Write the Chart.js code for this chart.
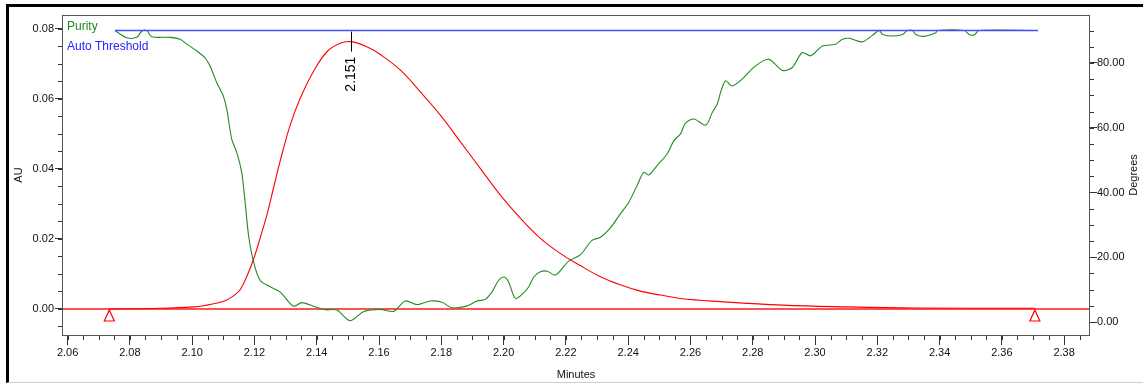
<!DOCTYPE html>
<html>
<head>
<meta charset="utf-8">
<script src="https://cdn.jsdelivr.net/npm/chart.js@4.4.1/dist/chart.umd.min.js"></script>
<style>
  html, body { margin: 0; padding: 0; background: #fff; }
  #wrap { position: relative; width: 1143px; height: 385px; overflow: hidden; }
  #frame { position: absolute; left: 6px; top: 4px; right: -10px; bottom: 2px;
           border-left: 3px solid #000; border-top: 3px solid #000; border-bottom: 1px solid #cfcfcf; }
  #chart { position: absolute; left: 0; top: 0; }
</style>
</head>
<body>
<div id="wrap">
  <div id="frame"></div>
  <canvas id="chart" width="1143" height="385"></canvas>
</div>
<script>
// Pico (AU, eje izquierdo)
const peakTimes = [2.0734, 2.0897, 2.1004, 2.1047, 2.1080, 2.1111, 2.1135, 2.1154, 2.1175, 2.1197, 2.1218, 2.1240,
  2.1261, 2.1282, 2.1315, 2.1347, 2.1389, 2.1433, 2.1475, 2.1510, 2.1561, 2.1604,
  2.1668, 2.1732, 2.1797, 2.1861, 2.1925, 2.1989, 2.2054, 2.2118, 2.2182, 2.2246,
  2.2311, 2.2375, 2.2439, 2.2504, 2.2568, 2.2697, 2.2895, 2.3108, 2.3324, 2.3706];
const peakAU = [0, 0.0002, 0.0006, 0.0011, 0.0017, 0.0026, 0.0039, 0.0055, 0.0092, 0.0142, 0.0202, 0.0269,
  0.0345, 0.0421, 0.0526, 0.0602, 0.0678, 0.0735, 0.0759, 0.0764, 0.0749, 0.0727,
  0.0683, 0.0621, 0.0554, 0.0478, 0.0402, 0.0326, 0.0259, 0.0202, 0.0159, 0.0124,
  0.0092, 0.0069, 0.0051, 0.0040, 0.0030, 0.0021, 0.0011, 0.0006, 0.0003, 0.0002];

// Pureza (grados, eje derecho)
const purityTimes = [2.0752, 2.0790, 2.0822, 2.0838, 2.0854, 2.0870, 2.0929, 2.0961, 2.0983, 2.1015,
  2.1041, 2.1057, 2.1079, 2.1100, 2.1111, 2.1127, 2.1143, 2.1159, 2.1170, 2.1181,
  2.1197, 2.1218, 2.1250, 2.1282, 2.1325, 2.1352, 2.1389, 2.1427, 2.1465, 2.1507,
  2.1550, 2.1604, 2.1647, 2.1684, 2.1722, 2.1765, 2.1802, 2.1834, 2.1883, 2.1915,
  2.1941, 2.1963, 2.1984, 2.2002, 2.2016, 2.2038, 2.2064, 2.2081, 2.2097, 2.2118,
  2.2140, 2.2166, 2.2188, 2.2209, 2.2247, 2.2284, 2.2311, 2.2343, 2.2375, 2.2402,
  2.2429, 2.2450, 2.2466, 2.2493, 2.2525, 2.2547, 2.2568, 2.2584, 2.2611, 2.2649,
  2.2670, 2.2686, 2.2697, 2.2713, 2.2734, 2.2766, 2.2809, 2.2852, 2.2895, 2.2927,
  2.2959, 2.2986, 2.3024, 2.3066, 2.3088, 2.3109, 2.3152, 2.3184, 2.3206, 2.3217,
  2.3249, 2.3281, 2.3297, 2.3313, 2.3324, 2.3350, 2.3388, 2.3393, 2.3479, 2.3495,
  2.3511, 2.3527, 2.3716];
const purityDeg = [90, 87.8, 87.9, 89.8, 90, 88.1, 87.9, 87.3, 85.8, 83.7,
  81.6, 79.1, 73.9, 69.8, 65.8, 56.5, 52.4, 46.2, 37.0, 26.8,
  18.6, 12.9, 10.9, 9.3, 4.9, 6.0, 4.9, 3.8, 3.7, 0.4,
  3.2, 3.9, 3.3, 6.5, 5.4, 6.5, 6.1, 4.4, 5.0, 6.5,
  7.0, 9.3, 12.9, 13.9, 12.4, 7.3, 9.0, 10.9, 13.9, 15.5,
  15.7, 14.5, 16.5, 18.8, 20.8, 25.2, 26.2, 29.1, 33.4, 37.0,
  42.2, 46.2, 45.4, 48.3, 51.9, 56.0, 58.1, 61.4, 62.7, 60.8,
  64.7, 67.3, 71.0, 74.5, 72.9, 75.0, 79.1, 81.1, 77.7, 78.6,
  83.2, 82.2, 85.2, 85.8, 87.3, 87.6, 86.5, 88.5, 90, 88.8,
  88.3, 88.8, 90, 90, 88.8, 88.2, 89.3, 90, 90, 88.8,
  88.6, 90, 90];

// Umbral automatico
const thresholdTimes = [2.0752, 2.3716];
const thresholdDeg = [90, 90];

const peakApex = { time: 2.151, au: 0.0764, label: '2.151' };
const integrationMarks = [2.0734, 2.3706];

const xMajorTicks = [2.06, 2.08, 2.10, 2.12, 2.14, 2.16, 2.18, 2.20, 2.22, 2.24, 2.26, 2.28, 2.30, 2.32, 2.34, 2.36, 2.38];
const auTicks = [0, 0.02, 0.04, 0.06, 0.08];
const degTicks = [0, 20, 40, 60, 80];

const X_MIN = 2.0582, X_MAX = 2.3883;
const AU_MIN = -0.00743, AU_MAX = 0.0840;
const DEG_MIN = -4.0, DEG_MAX = 94.8;

const tickFont = { family: "'Liberation Sans Narrow', 'Arial Narrow', 'Liberation Sans', Arial, sans-serif", size: 11 };
const labelFont = { family: "'Liberation Sans', Arial, sans-serif", size: 11 };

const toXY = (xs, ys) => xs.map((x, i) => ({ x: x, y: ys[i] }));

// Marcas menores, marco, leyenda y anotaciones
const extras = {
  id: 'extras',
  afterDraw(chart) {
    const ctx = chart.ctx;
    const area = chart.chartArea;
    const x = chart.scales.x, y = chart.scales.y, y1 = chart.scales.y1;
    ctx.save();

    // marcas menores
    ctx.strokeStyle = '#333';
    ctx.lineWidth = 1;
    ctx.beginPath();
    for (let i = 0; i <= 65; i++) {
      const px = Math.round(x.getPixelForValue(2.06 + i * 0.005)) + 0.5;
      ctx.moveTo(px, area.bottom); ctx.lineTo(px, area.bottom + 5);
    }
    for (let i = -1; i <= 16; i++) {
      const py = Math.round(y.getPixelForValue(i * 0.005)) + 0.5;
      ctx.moveTo(area.left - 4, py); ctx.lineTo(area.left, py);
    }
    for (let i = 0; i <= 18; i++) {
      const py = Math.round(y1.getPixelForValue(i * 5)) + 0.5;
      ctx.moveTo(area.right, py); ctx.lineTo(area.right + 4, py);
    }
    ctx.stroke();

    // marco
    ctx.strokeStyle = '#555';
    ctx.strokeRect(area.left + 0.5, area.top + 0.5, area.right - area.left - 1, area.bottom - area.top);

    // triangulos de integracion
    ctx.strokeStyle = '#ff0000';
    ctx.fillStyle = '#fff';
    ctx.lineWidth = 1.2;
    const base = y.getPixelForValue(0);
    integrationMarks.forEach(t => {
      const px = x.getPixelForValue(t);
      ctx.beginPath();
      ctx.moveTo(px, base + 1);
      ctx.lineTo(px + 5, base + 12);
      ctx.lineTo(px - 5, base + 12);
      ctx.closePath();
      ctx.fill(); ctx.stroke();
    });

    // etiqueta del pico
    const ax = Math.round(x.getPixelForValue(peakApex.time)) + 0.5;
    const ay = y.getPixelForValue(peakApex.au);
    ctx.strokeStyle = '#000';
    ctx.lineWidth = 1;
    ctx.beginPath();
    ctx.moveTo(ax, ay - 10); ctx.lineTo(ax, ay + 10);
    ctx.stroke();
    ctx.save();
    ctx.translate(ax, ay + 15);
    ctx.rotate(-Math.PI / 2);
    ctx.fillStyle = '#000';
    ctx.font = "14px 'Liberation Sans', Arial, sans-serif";
    ctx.textAlign = 'right';
    ctx.textBaseline = 'middle';
    ctx.fillText(peakApex.label, 0, 0);
    ctx.restore();

    // leyenda
    ctx.font = "12px 'Liberation Sans', Arial, sans-serif";
    ctx.textAlign = 'left';
    ctx.textBaseline = 'alphabetic';
    ctx.fillStyle = '#1f8a1f';
    ctx.fillText('Purity', area.left + 5, area.top + 15);
    ctx.fillStyle = '#2222ff';
    ctx.fillText('Auto Threshold', area.left + 5, area.top + 35);

    // titulo eje derecho
    ctx.save();
    ctx.translate(1134, (area.top + area.bottom) / 2);
    ctx.rotate(-Math.PI / 2);
    ctx.fillStyle = '#111';
    ctx.font = "11px 'Liberation Sans', Arial, sans-serif";
    ctx.textAlign = 'center';
    ctx.textBaseline = 'middle';
    ctx.fillText('Degrees', 0, 0);
    ctx.restore();

    ctx.restore();
  }
};

new Chart(document.getElementById('chart'), {
  type: 'line',
  data: {
    datasets: [
      {
        label: 'Peak',
        data: toXY(peakTimes, peakAU),
        yAxisID: 'y',
        borderColor: '#ff0000',
        borderWidth: 1.1,
        pointRadius: 0,
        tension: 0.4
      },
      {
        label: 'Auto Threshold',
        data: toXY(thresholdTimes, thresholdDeg),
        yAxisID: 'y1',
        borderColor: '#4a4aff',
        borderWidth: 1.6,
        pointRadius: 0
      },
      {
        label: 'Purity',
        data: toXY(purityTimes, purityDeg),
        yAxisID: 'y1',
        borderColor: '#228b22',
        borderWidth: 1.1,
        pointRadius: 0,
        tension: 0.3
      },
      {
        label: 'Baseline',
        data: [{ x: X_MIN, y: 0 }, { x: X_MAX, y: 0 }],
        yAxisID: 'y',
        borderColor: 'rgba(255, 40, 40, 0.8)',
        borderWidth: 2,
        pointRadius: 0
      }
    ]
  },
  options: {
    responsive: false,
    animation: false,
    devicePixelRatio: 1,
    layout: { padding: { top: 15, left: 0, right: 0, bottom: 0 } },
    plugins: { legend: { display: false }, tooltip: { enabled: false } },
    scales: {
      x: {
        type: 'linear',
        min: X_MIN,
        max: X_MAX,
        afterBuildTicks: s => { s.ticks = xMajorTicks.map(v => ({ value: v })); },
        afterFit: s => { s.height = 50; },
        grid: { drawOnChartArea: false, tickLength: 10, tickColor: '#333' },
        border: { display: false },
        ticks: { autoSkip: false, maxRotation: 0, padding: 1, color: '#111', font: tickFont,
                 callback: v => v.toFixed(2) },
        title: { display: true, text: 'Minutes', color: '#111', font: labelFont, padding: { top: 0, bottom: 3 } }
      },
      y: {
        position: 'left',
        min: AU_MIN,
        max: AU_MAX,
        afterBuildTicks: s => { s.ticks = auTicks.map(v => ({ value: v })); },
        afterFit: s => { s.width = 62; },
        grid: { drawOnChartArea: false, tickLength: 7, tickColor: '#333' },
        border: { display: false },
        ticks: { padding: 1, color: '#111', font: tickFont, callback: v => v.toFixed(2) },
        title: { display: true, text: 'AU', color: '#111', font: labelFont, padding: { top: 12 } }
      },
      y1: {
        position: 'right',
        min: DEG_MIN,
        max: DEG_MAX,
        afterBuildTicks: s => { s.ticks = degTicks.map(v => ({ value: v })); },
        afterFit: s => { s.width = 53; },
        grid: { drawOnChartArea: false, tickLength: 7, tickColor: '#333' },
        border: { display: false },
        ticks: { padding: 0, color: '#111', font: tickFont, callback: v => v.toFixed(2) }
      }
    }
  },
  plugins: [extras]
});
</script>
</body>
</html>
